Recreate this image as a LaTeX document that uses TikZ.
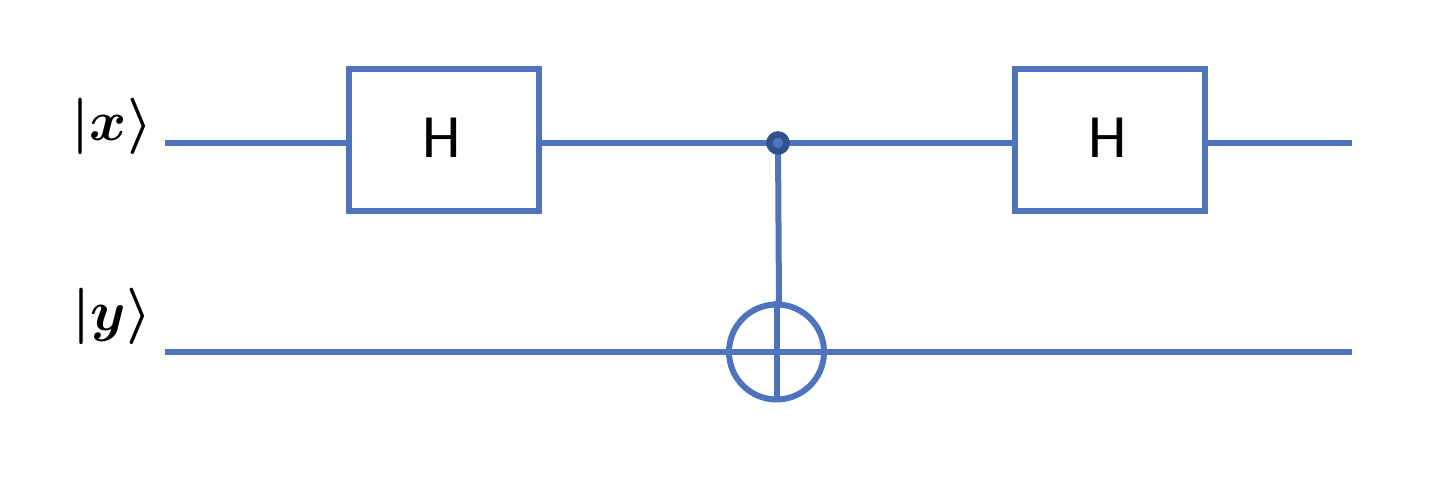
\documentclass[tikz,border=0pt]{standalone}
\usepackage{amsmath,amssymb}
\usepackage{fontspec}
\newfontfamily\gatefont{Carlito}
\usetikzlibrary{positioning,calc}

\definecolor{wireblue}{HTML}{4F74BE}
\definecolor{dotblue}{HTML}{2F528F}

\newcommand{\gatetext}{\hspace*{-.08cm}\raisebox{.08cm}{H}}

\tikzset{
    wire/.style={draw=wireblue,line width=.12cm},
    gate/.style={wire,rectangle,fill=white,minimum width=3.8cm,minimum height=2.84cm,inner sep=0pt,font=\gatefont\fontsize{35}{42}\selectfont},
    ket/.style={font=\boldmath\LARGE,scale=1.86,inner sep=0pt},
    ctrldot/.style={circle,inner sep=0pt,minimum size=.34cm,fill=wireblue,draw=dotblue,line width=.13cm},
}

\begin{document}
\begin{tikzpicture}
            \useasboundingbox (0,0) rectangle (29.04,10);

            \node[ket] (kx) at (2.24,7.47) {$|x\rangle$};
            \node[ket] (ky) at (2.24,3.67) {$|y\rangle$};

            \coordinate (xin) at (3.3,7.14);
            \coordinate (xout) at (27.04,7.14);
            \coordinate (yin) at (3.3,2.95);
            \coordinate (yout) at (27.04,2.95);

            \node[gate] (ha) at (8.88,7.2) {\gatetext};
            \node[gate] (hb) at (22.2,7.2) {\gatetext};

            \coordinate (ctrl) at (15.56,7.14);
            \node[circle,inner sep=0pt,minimum size=1.9cm,wire] (targ) at (15.53,2.96) {};
            \coordinate (ctop) at (15.58,3.9);

            \draw[wire] (xin) -- (xin -| ha.west);
            \draw[wire] (xin -| ha.east) -- (ctrl);
            \draw[wire] (ctrl) -- (xin -| hb.west);
            \draw[wire] (xin -| hb.east) -- (xout);

            \draw[wire] (yin) -- (yout);
            \draw[wire] (targ.north) -- (targ.south);
            \draw[wire] (ctrl) -- (ctop);

            % dot goes on top of the lines
            \node[ctrldot] (dot) at (ctrl) {};
\end{tikzpicture}
\end{document}
